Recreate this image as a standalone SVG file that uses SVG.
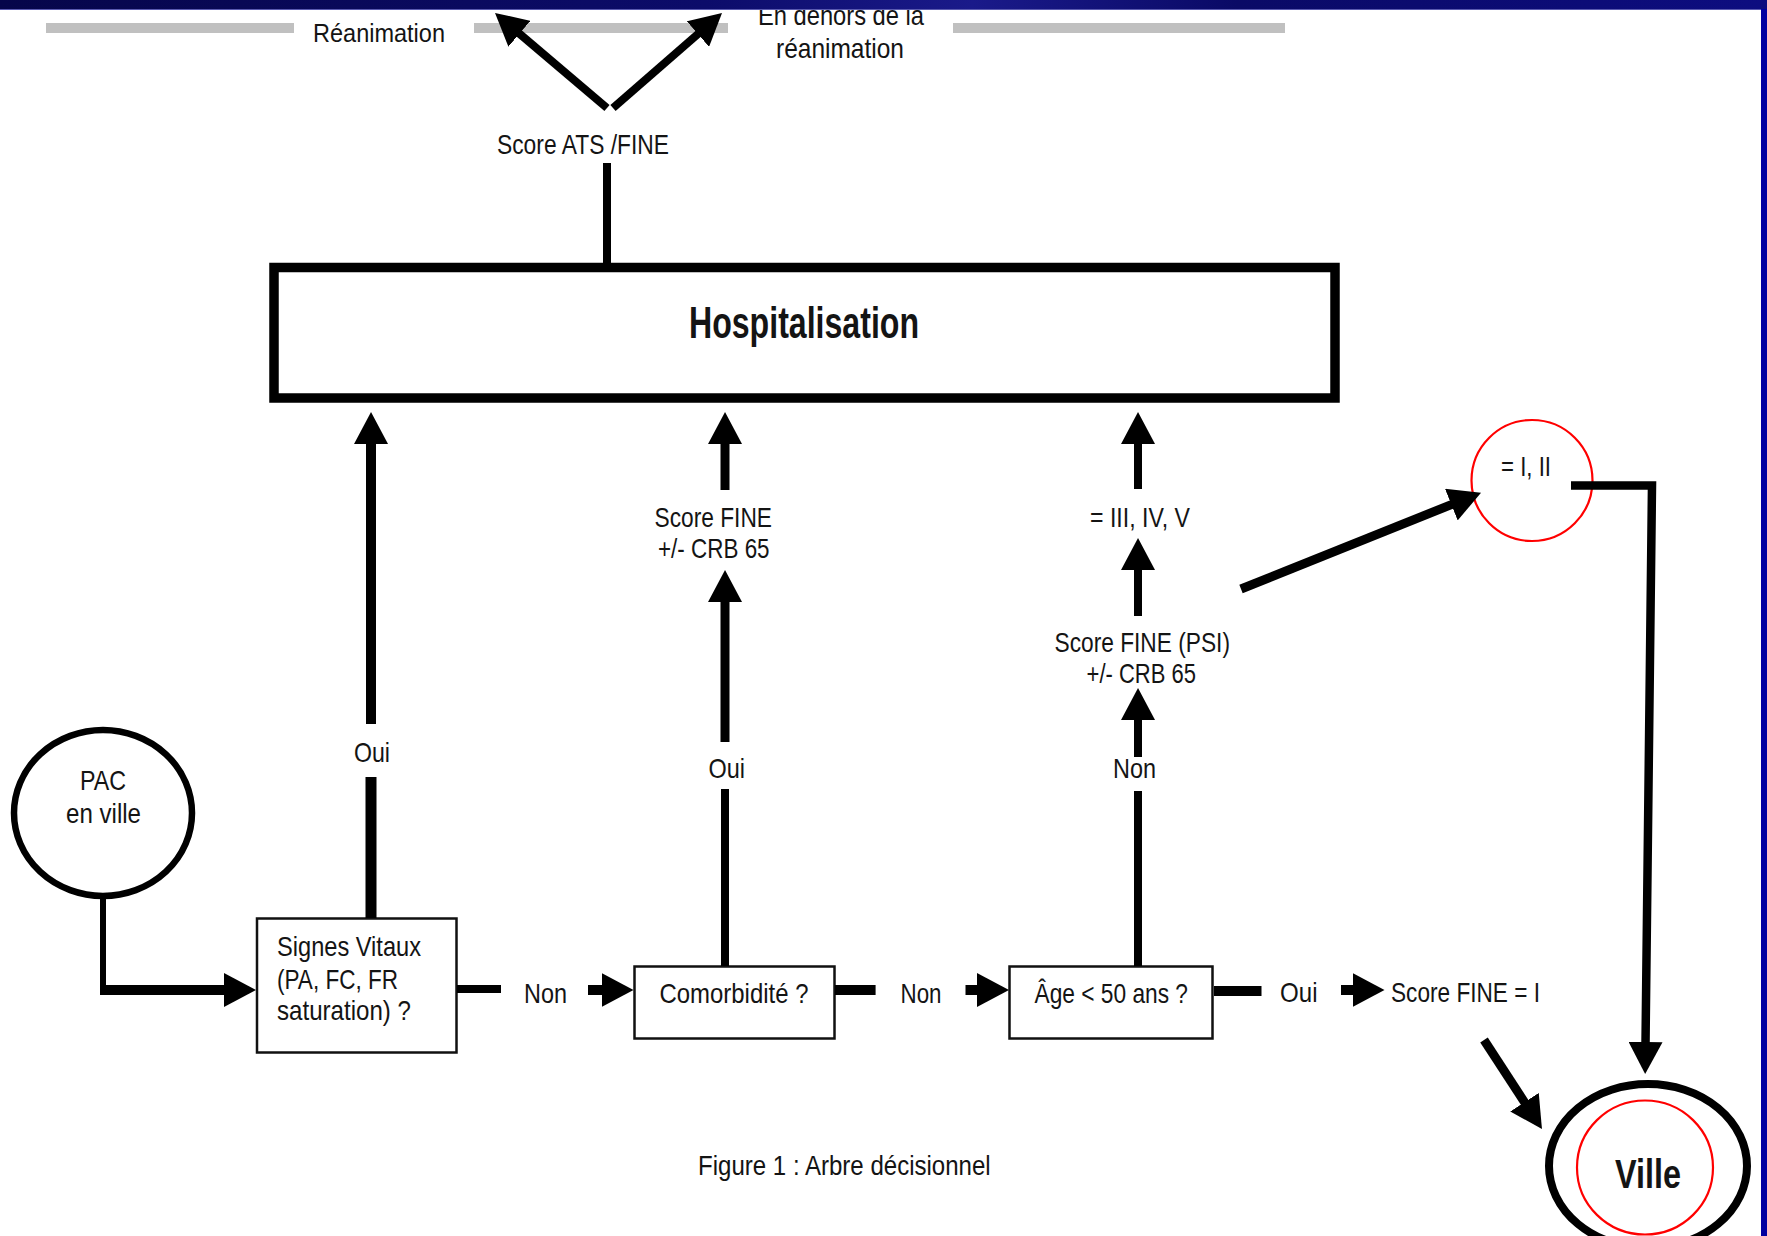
<svg xmlns="http://www.w3.org/2000/svg" width="1767" height="1236" viewBox="0 0 1767 1236">
<style>
.t{font-family:"Liberation Sans",Arial,sans-serif;font-size:28px;fill:#141414}
.b{font-weight:bold}
.big{font-size:44px}
.ville{font-size:40px}
.small{font-size:25px}
.box{fill:#fff;stroke:#111;stroke-width:2.5}
.ln{stroke:#000;fill:none;stroke-linecap:butt}
.red{fill:none;stroke:#f00;stroke-width:2.2}
.bar{fill:#c0c0c0}
</style>
<defs>
<marker id="ah" viewBox="0 0 32 34" markerWidth="32" markerHeight="34" refX="2" refY="17" orient="auto" markerUnits="userSpaceOnUse"><path d="M0,0 L32,17 L0,34 Z" fill="#000"/></marker>
<linearGradient id="topg" x1="0" y1="0" x2="1" y2="0">
<stop offset="0" stop-color="#06064a"/><stop offset="0.4" stop-color="#0c0c6a"/><stop offset="0.55" stop-color="#1a1a8a"/><stop offset="0.7" stop-color="#0a0a66"/><stop offset="1" stop-color="#0d0d80"/>
</linearGradient>
</defs>
<rect x="0" y="0" width="1767" height="1236" fill="#fff"/>

<g id="header">
<rect class="bar" x="46" y="23" width="248" height="10"/>
<rect class="bar" x="474" y="23" width="254" height="10"/>
<rect class="bar" x="953" y="23" width="332" height="10"/>
</g>

<g id="node-reanimation"><text class="t small" x="313" y="42" textLength="132" lengthAdjust="spacingAndGlyphs">Réanimation</text></g>
<g id="node-hors-reanimation">
<text class="t" x="758" y="25" textLength="166" lengthAdjust="spacingAndGlyphs">En dehors de la</text>
<text class="t" x="776" y="58" textLength="128" lengthAdjust="spacingAndGlyphs">réanimation</text>
</g>
<g id="node-score-ats"><text class="t" x="497" y="154" textLength="172" lengthAdjust="spacingAndGlyphs">Score ATS /FINE</text></g>

<g id="node-hospitalisation">
<rect x="274" y="267.5" width="1061" height="130.5" fill="#fff" stroke="#000" stroke-width="9.5"/>
<text class="t b big" x="689" y="338" textLength="230" lengthAdjust="spacingAndGlyphs">Hospitalisation</text>
</g>

<g id="node-score-fine">
<text class="t" x="654.5" y="527" textLength="117.5" lengthAdjust="spacingAndGlyphs">Score FINE</text>
<text class="t" x="658" y="558" textLength="111.6" lengthAdjust="spacingAndGlyphs">+/- CRB 65</text>
</g>
<g id="node-iii-iv-v"><text class="t" x="1090" y="526.5" textLength="100" lengthAdjust="spacingAndGlyphs">= III, IV, V</text></g>
<g id="node-score-psi">
<text class="t" x="1054.5" y="651.7" textLength="175.5" lengthAdjust="spacingAndGlyphs">Score FINE (PSI)</text>
<text class="t" x="1086.6" y="683" textLength="109.4" lengthAdjust="spacingAndGlyphs">+/- CRB 65</text>
</g>
<g id="node-i-ii">
<text class="t" x="1501" y="476" textLength="50" lengthAdjust="spacingAndGlyphs">= I, II</text>
<ellipse class="red" cx="1532" cy="480.5" rx="60.5" ry="60.5"/>
</g>

<g id="node-pac">
<ellipse cx="103" cy="813" rx="89" ry="83" fill="#fff" stroke="#000" stroke-width="6.5"/>
<text class="t" x="80" y="790" textLength="46" lengthAdjust="spacingAndGlyphs">PAC</text>
<text class="t" x="66" y="823" textLength="75" lengthAdjust="spacingAndGlyphs">en ville</text>
</g>

<g id="node-signes">
<rect class="box" x="257" y="918.5" width="199.5" height="134"/>
<text class="t" x="277" y="956" textLength="144" lengthAdjust="spacingAndGlyphs">Signes Vitaux</text>
<text class="t" x="277" y="989" textLength="121" lengthAdjust="spacingAndGlyphs">(PA, FC, FR</text>
<text class="t" x="277" y="1020" textLength="134" lengthAdjust="spacingAndGlyphs">saturation) ?</text>
</g>
<g id="node-comorbidite">
<rect class="box" x="634.5" y="966.5" width="200" height="72"/>
<text class="t" x="659.5" y="1002.7" textLength="149" lengthAdjust="spacingAndGlyphs">Comorbidité ?</text>
</g>
<g id="node-age">
<rect class="box" x="1009.5" y="966.5" width="203" height="72"/>
<text class="t" x="1034.5" y="1002.7" textLength="153.5" lengthAdjust="spacingAndGlyphs">Âge &lt; 50 ans ?</text>
</g>
<g id="node-score-i"><text class="t" x="1391" y="1001.7" textLength="149" lengthAdjust="spacingAndGlyphs">Score FINE = I</text></g>

<g id="node-ville">
<ellipse cx="1648" cy="1166" rx="99" ry="82" fill="none" stroke="#000" stroke-width="8"/>
<ellipse class="red" cx="1645" cy="1167.5" rx="68" ry="67"/>
<text class="t b ville" x="1615" y="1188" textLength="66" lengthAdjust="spacingAndGlyphs">Ville</text>
</g>

<g id="caption"><text class="t" x="698" y="1175" textLength="292.7" lengthAdjust="spacingAndGlyphs">Figure 1 : Arbre décisionnel</text></g>

<g id="connectors">
<line class="ln" x1="607" y1="108" x2="517.9" y2="32.4" stroke-width="8" marker-end="url(#ah)"/>
<line class="ln" x1="613" y1="108" x2="699.4" y2="32.7" stroke-width="8" marker-end="url(#ah)"/>
<line class="ln" x1="607" y1="163" x2="607" y2="264" stroke-width="8"/>

<line class="ln" x1="103" y1="896" x2="103" y2="995" stroke-width="6"/>
<line class="ln" x1="100" y1="990" x2="226" y2="990" stroke-width="10" marker-end="url(#ah)"/>

<line class="ln" x1="371" y1="918" x2="371" y2="777" stroke-width="11"/>
<line class="ln" x1="371" y1="724" x2="371" y2="442" stroke-width="10" marker-end="url(#ah)"/>

<line class="ln" x1="457" y1="989" x2="501" y2="989" stroke-width="8"/>
<line class="ln" x1="588" y1="990" x2="603.5" y2="990" stroke-width="10" marker-end="url(#ah)"/>

<line class="ln" x1="725" y1="966" x2="725" y2="789" stroke-width="8"/>
<line class="ln" x1="725" y1="742" x2="725" y2="600" stroke-width="9" marker-end="url(#ah)"/>
<line class="ln" x1="725" y1="490" x2="725" y2="442" stroke-width="9" marker-end="url(#ah)"/>

<line class="ln" x1="835" y1="990" x2="875.6" y2="990" stroke-width="10"/>
<line class="ln" x1="965.5" y1="990" x2="979" y2="990" stroke-width="10" marker-end="url(#ah)"/>

<line class="ln" x1="1138" y1="966" x2="1138" y2="791" stroke-width="8"/>
<line class="ln" x1="1138" y1="757" x2="1138" y2="718" stroke-width="8" marker-end="url(#ah)"/>
<line class="ln" x1="1138" y1="616" x2="1138" y2="568" stroke-width="8" marker-end="url(#ah)"/>
<line class="ln" x1="1138" y1="489" x2="1138" y2="442" stroke-width="8" marker-end="url(#ah)"/>

<line class="ln" x1="1241" y1="589" x2="1453.2" y2="503.9" stroke-width="9" marker-end="url(#ah)"/>
<path class="ln" d="M1571,485.5 H1652 L1645.5,1044" stroke-width="8.5" marker-end="url(#ah)"/>

<line class="ln" x1="1214" y1="991" x2="1261.5" y2="991" stroke-width="10"/>
<line class="ln" x1="1341" y1="990" x2="1354.5" y2="990" stroke-width="10" marker-end="url(#ah)"/>
<line class="ln" x1="1484" y1="1040" x2="1525.6" y2="1103.9" stroke-width="9" marker-end="url(#ah)"/>

<text class="t" x="354" y="761.5" textLength="36" lengthAdjust="spacingAndGlyphs">Oui</text>
<text class="t" x="708.5" y="778" textLength="36.5" lengthAdjust="spacingAndGlyphs">Oui</text>
<text class="t" x="1113" y="778" textLength="43" lengthAdjust="spacingAndGlyphs">Non</text>
<text class="t" x="524" y="1002.6" textLength="43" lengthAdjust="spacingAndGlyphs">Non</text>
<text class="t" x="900.5" y="1002.7" textLength="41" lengthAdjust="spacingAndGlyphs">Non</text>
<text class="t" x="1280" y="1001.7" textLength="37.5" lengthAdjust="spacingAndGlyphs">Oui</text>
</g>

<g id="frame">
<rect x="0" y="0" width="1767" height="9.5" fill="url(#topg)"/>
<line x1="0" y1="9.5" x2="1761" y2="9.5" stroke="#5a5ab0" stroke-width="1"/>
<rect x="1761" y="9" width="6" height="1227" fill="#0000a0"/>
</g>
</svg>
